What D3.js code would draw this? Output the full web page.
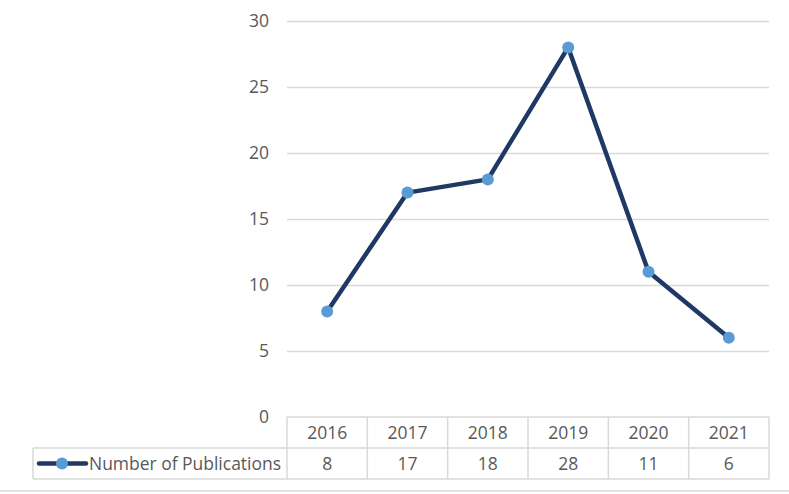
<!DOCTYPE html>
<html>
<head>
<meta charset="utf-8">
<script src="https://cdn.jsdelivr.net/npm/d3@7"></script>
<style>
  body { margin: 0; background: #fff; }
  svg { display: block; font-family: "Open Sans", "Noto Sans", sans-serif; }
</style>
</head>
<body>
<div id="chart"></div>
<script>
// Excel-style line chart with a data table underneath
const years = ['2016', '2017', '2018', '2019', '2020', '2021'];
const publications = [8, 17, 18, 28, 11, 6];
const yTicks = [0, 5, 10, 15, 20, 25, 30];
const seriesName = 'Number of Publications';

const width = 789, height = 494;
const plot = { left: 287, right: 769, top: 21, bottom: 417 };
const rowH = 31;
const legendLeft = 33;
const fontSize = 17.5;
const textColor = '#595959', gridColor = '#d9d9d9';

const svg = d3.select('#chart').append('svg')
  .attr('width', width)
  .attr('height', height);

const x = d3.scaleBand().domain(years).range([plot.left, plot.right]);
const y = d3.scaleLinear().domain([0, 30]).range([plot.bottom, plot.top]);

// gridlines + y labels
const yAxis = d3.axisLeft(y).tickValues(yTicks).tickSize(-(plot.right - plot.left)).tickPadding(18);
const ga = svg.append('g').attr('transform', `translate(${plot.left},0)`).call(yAxis);
ga.select('.domain').remove();
ga.selectAll('.tick line').attr('stroke', gridColor).attr('stroke-width', 1.3)
  .filter(d => d === 0).remove();
ga.selectAll('.tick text').attr('fill', textColor).attr('font-size', fontSize)
  .attr('font-family', '"Open Sans", sans-serif');

// data table
const t = svg.append('g').attr('stroke', gridColor).attr('stroke-width', 1.5).attr('fill', 'none');
t.append('line').attr('x1', plot.left).attr('x2', plot.right).attr('y1', plot.bottom).attr('y2', plot.bottom);
t.append('line').attr('x1', legendLeft).attr('x2', plot.right).attr('y1', plot.bottom + rowH).attr('y2', plot.bottom + rowH);
t.append('line').attr('x1', legendLeft).attr('x2', plot.right).attr('y1', plot.bottom + 2 * rowH).attr('y2', plot.bottom + 2 * rowH);
t.append('line').attr('x1', legendLeft).attr('x2', legendLeft).attr('y1', plot.bottom + rowH).attr('y2', plot.bottom + 2 * rowH);
t.selectAll('.vcol').data(years.concat(['end'])).join('line')
  .attr('x1', (d, i) => plot.left + i * x.bandwidth())
  .attr('x2', (d, i) => plot.left + i * x.bandwidth())
  .attr('y1', plot.bottom).attr('y2', plot.bottom + 2 * rowH);

// outer chart border at the bottom
svg.append('line').attr('x1', 0).attr('x2', width).attr('y1', 491).attr('y2', 491)
  .attr('stroke', gridColor).attr('stroke-width', 1.5);

svg.append('g').selectAll('text').data(years).join('text')
  .attr('x', d => x(d) + x.bandwidth() / 2)
  .attr('y', plot.bottom + rowH / 2 + 6.5)
  .attr('text-anchor', 'middle').attr('font-size', fontSize).attr('fill', textColor)
  .text(d => d);

svg.append('g').selectAll('text').data(publications).join('text')
  .attr('x', (d, i) => x(years[i]) + x.bandwidth() / 2)
  .attr('y', plot.bottom + rowH * 1.5 + 6.5)
  .attr('text-anchor', 'middle').attr('font-size', fontSize).attr('fill', textColor)
  .text(d => d);

// legend key in table
const ly = plot.bottom + rowH * 1.5;
svg.append('line').attr('x1', 39).attr('x2', 86).attr('y1', ly).attr('y2', ly)
  .attr('stroke', '#203864').attr('stroke-width', 4.5).attr('stroke-linecap', 'round');
svg.append('circle').attr('cx', 62).attr('cy', ly).attr('r', 6).attr('fill', '#5b9bd5');
svg.append('text').attr('x', 89).attr('y', ly + 6.5).attr('font-size', fontSize).attr('fill', textColor)
  .attr('textLength', 192).attr('lengthAdjust', 'spacingAndGlyphs')
  .text(seriesName);

// series
const line = d3.line().x((d, i) => x(years[i]) + x.bandwidth() / 2).y(d => y(d));
svg.append('path').datum(publications)
  .attr('d', line).attr('fill', 'none')
  .attr('stroke', '#203864').attr('stroke-width', 4.5)
  .attr('stroke-linejoin', 'round').attr('stroke-linecap', 'round');
svg.append('g').selectAll('circle').data(publications).join('circle')
  .attr('cx', (d, i) => x(years[i]) + x.bandwidth() / 2)
  .attr('cy', d => y(d))
  .attr('r', 6).attr('fill', '#5b9bd5');
</script>
</body>
</html>
